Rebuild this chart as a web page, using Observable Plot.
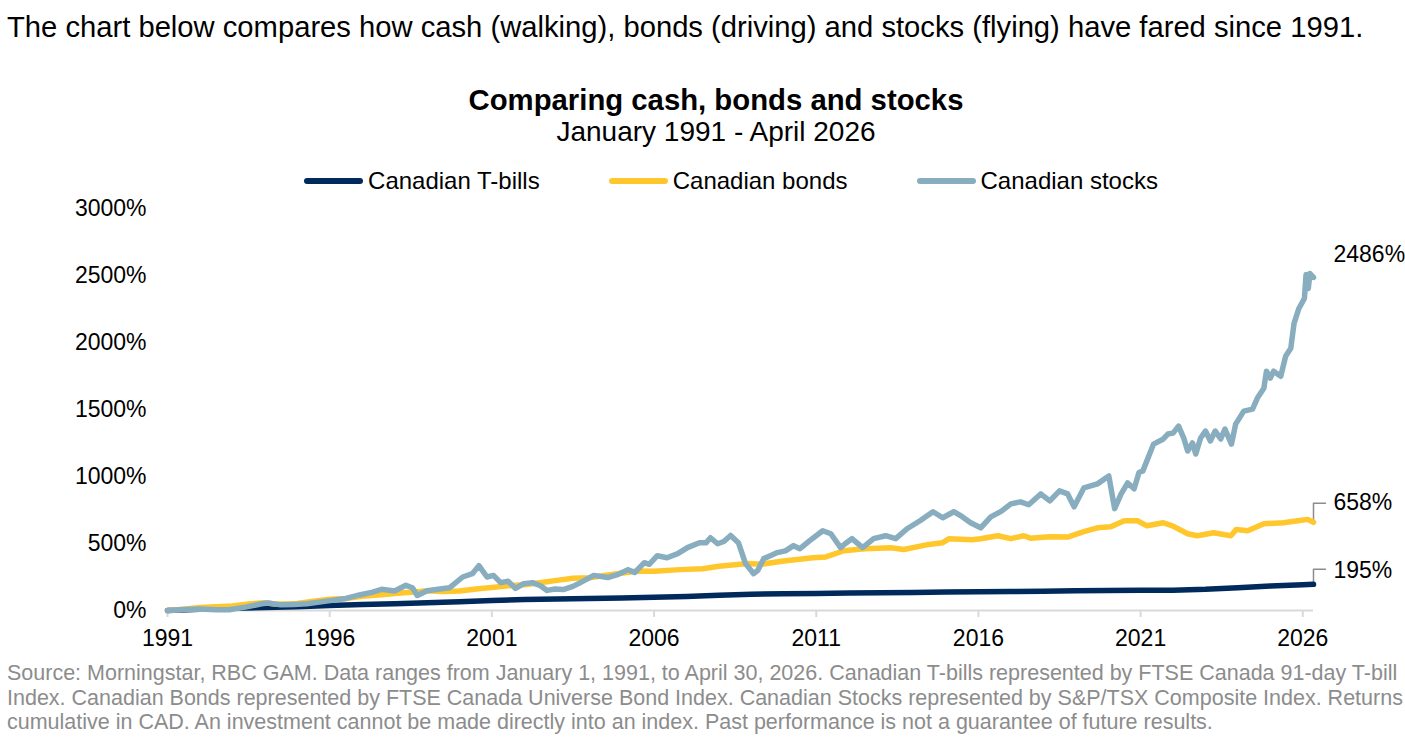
<!DOCTYPE html>
<html>
<head>
<meta charset="utf-8">
<script src="https://cdn.jsdelivr.net/npm/d3@7"></script>
<script src="https://cdn.jsdelivr.net/npm/@observablehq/plot@0.6"></script>
<style>
  html, body { margin: 0; padding: 0; background: #fff; }
  body { width: 1405px; height: 741px; position: relative; overflow: hidden; font-family: "Liberation Sans", Arial, sans-serif; color: #000; }
  .abs { position: absolute; white-space: nowrap; }
  #intro { left: 7px; top: 12px; font-size: 29.2px; line-height: 30px; }
  #title { left: 0; width: 1432px; text-align: center; top: 85px; font-size: 29.3px; line-height: 30px; font-weight: bold; }
  #subtitle { left: 0; width: 1432px; text-align: center; top: 117px; font-size: 28px; line-height: 30px; }
  #legend { left: 0; width: 1462px; top: 167px; display: flex; justify-content: center; gap: 69px; font-size: 24px; line-height: 28px; }
  .item { display: flex; align-items: center; gap: 5px; }
  .sw { width: 59px; height: 6px; border-radius: 3px; }
  #chart { left: 0; top: 195px; }
  #footer { left: 7px; top: 661px; font-size: 21.5px; line-height: 24.5px; color: #8c8c8c; }
</style>
</head>
<body>
<div id="intro" class="abs">The chart below compares how cash (walking), bonds (driving) and stocks (flying) have fared since 1991.</div>
<div id="title" class="abs">Comparing cash, bonds and stocks</div>
<div id="subtitle" class="abs">January 1991 - April 2026</div>
<div id="legend" class="abs"></div>
<div id="chart" class="abs"></div>
<div id="footer" class="abs">Source: Morningstar, RBC GAM. Data ranges from January 1, 1991, to April 30, 2026. Canadian T-bills represented by FTSE Canada 91-day T-bill<br>Index. Canadian Bonds represented by FTSE Canada Universe Bond Index. Canadian Stocks represented by S&amp;P/TSX Composite Index. Returns<br>cumulative in CAD. An investment cannot be made directly into an index. Past performance is not a guarantee of future results.</div>
<script>
// ---- Data (cumulative return, %) ----
const seriesNames = ["Canadian T-bills", "Canadian bonds", "Canadian stocks"];
const seriesColors = ["#002A5C", "#FFC72C", "#88ADBF"];
const endLabels = ["195%", "658%", "2486%"];

const xTicks = [1991, 1996, 2001, 2006, 2011, 2016, 2021, 2026];
const yTicks = [0, 500, 1000, 1500, 2000, 2500, 3000];

const tbillYears = [1991,1992,1993,1994,1995,1996,1997,1998,1999,2000,2001,2002,2003,2004,2005,2006,2007,2008,2009,2010,2011,2012,2013,2014,2015,2016,2017,2018,2019,2020,2021,2022,2023,2024,2025,2026,2026.33];
const tbillValues = [0,9,16,22,28,37,44,50,58,66,75,82,86,90,94,98,105,114,122,125,127,130,133,135,138,140,142,144,147,150,151,152,158,170,183,192,195];

const bondYears = [1991,1991.5,1992,1992.5,1993,1993.5,1994,1994.3,1994.8,1995,1995.5,1996,1996.5,1997,1997.5,1998,1998.7,1999,1999.5,2000,2000.65,2001,2001.5,2002,2002.7,2003,2003.5,2004,2004.75,2005.5,2006,2006.8,2007.5,2008,2008.9,2009.3,2010,2010.9,2011.3,2011.85,2012.5,2013.3,2013.7,2014.4,2014.9,2015.1,2015.8,2016.07,2016.6,2017,2017.4,2017.6,2018.2,2018.75,2019.25,2019.67,2020.08,2020.5,2020.9,2021.2,2021.7,2022,2022.45,2022.75,2023.25,2023.78,2023.95,2024.3,2024.8,2025.4,2025.85,2026.15,2026.33];
const bondValues = [0,10,22,28,34,48,58,48,50,52,70,84,90,106,115,127,140,147,142,145,164,172,185,192,215,225,240,245,270,295,293,305,312,330,350,345,370,394,400,446,461,469,455,490,506,536,528,536,558,536,558,540,551,548,588,617,625,670,670,632,655,630,573,558,580,558,605,595,647,655,670,680,658];

const stockYears = [1991,1991.5,1992,1992.5,1992.9,1993.4,1993.9,1994.1,1994.5,1994.9,1995.3,1995.9,1996.5,1996.95,1997.3,1997.6,1998,1998.35,1998.55,1998.7,1999,1999.4,1999.7,2000.1,2000.4,2000.6,2000.85,2001.05,2001.27,2001.5,2001.73,2001.98,2002.25,2002.5,2002.7,2002.95,2003.2,2003.5,2003.73,2004.14,2004.57,2004.9,2005.2,2005.4,2005.7,2005.85,2006.1,2006.4,2006.73,2007.03,2007.4,2007.6,2007.74,2007.96,2008.15,2008.36,2008.6,2008.82,2009.07,2009.2,2009.38,2009.6,2009.8,2010.05,2010.3,2010.5,2010.8,2011.2,2011.45,2011.75,2011.9,2012.1,2012.43,2012.77,2013.14,2013.45,2013.8,2014.2,2014.6,2014.9,2015.24,2015.5,2015.76,2016.07,2016.38,2016.7,2017,2017.3,2017.55,2017.92,2018.2,2018.5,2018.75,2018.95,2019.25,2019.67,2020.02,2020.2,2020.4,2020.6,2020.8,2020.95,2021.07,2021.4,2021.7,2021.84,2022,2022.17,2022.33,2022.45,2022.6,2022.7,2022.85,2023,2023.15,2023.3,2023.47,2023.6,2023.8,2023.93,2024.18,2024.45,2024.6,2024.8,2024.88,2025,2025.1,2025.32,2025.47,2025.63,2025.73,2025.88,2026.05,2026.1,2026.17,2026.22,2026.33];
const stockValues = [0,8,12,5,5,25,50,56,42,45,50,70,90,118,135,158,145,188,170,112,148,160,170,250,275,335,250,262,208,218,165,200,208,185,150,160,156,180,208,262,246,270,305,283,357,345,409,394,424,469,506,505,543,498,515,560,506,350,275,300,387,410,432,445,484,461,521,595,573,469,500,536,469,536,558,536,610,670,737,692,737,700,655,617,699,740,796,811,789,870,818,893,870,774,915,945,1004,760,870,952,908,1030,1042,1242,1280,1317,1324,1376,1287,1190,1250,1168,1287,1339,1265,1339,1280,1354,1242,1391,1488,1503,1585,1659,1786,1734,1786,1748,1897,1957,2143,2254,2329,2507,2403,2515,2486];

// ---- Build table ----
const allYears = [tbillYears, bondYears, stockYears];
const allValues = [tbillValues, bondValues, stockValues];
const rows = [];
seriesNames.forEach((name, i) => {
  allYears[i].forEach((yr, j) => rows.push({series: name, year: yr, value: allValues[i][j]}));
});

// ---- Legend ----
const legend = document.getElementById("legend");
seriesNames.forEach((name, i) => {
  const it = document.createElement("div");
  it.className = "item";
  it.innerHTML = `<span class="sw" style="background:${seriesColors[i]}"></span><span>${name}</span>`;
  legend.appendChild(it);
});

// ---- Chart ----
const W = 1405, H = 460, mt = 13, mb = 45, ml = 167, mr = 92;
const pxPerUnit = (H - mt - mb) / 3000;       // px per % point
const pxPerYear = (W - ml - mr) / (2026.33 - 1991);
// label offsets above each series' last point (px)
const labelRise = [14, 20, 23];
const bracketRise = [15, 19, null];
const labels = [], brackets = [];
seriesNames.forEach((name, i) => {
  const yr = allYears[i][allYears[i].length - 1];
  const v = allValues[i][allValues[i].length - 1];
  labels.push({series: name, year: yr, value: v + labelRise[i] / pxPerUnit, label: endLabels[i]});
  if (bracketRise[i] != null) {
    const dv = bracketRise[i] / pxPerUnit;
    brackets.push({series: name, year: yr, value: v});
    brackets.push({series: name, year: yr, value: v + dv});
    brackets.push({series: name, year: yr + 12 / pxPerYear, value: v + dv});
  }
});

const chart = Plot.plot({
  width: W, height: H,
  marginTop: mt, marginBottom: mb, marginLeft: ml, marginRight: mr,
  style: {fontFamily: "'Liberation Sans', Arial, sans-serif", fontSize: "23px", color: "#000", background: "transparent", overflow: "visible"},
  x: {domain: [1991, 2026.33]},
  y: {domain: [0, 3000]},
  color: {domain: seriesNames, range: seriesColors},
  marks: [
    Plot.ruleY([0], {stroke: "#d9d9d9", strokeWidth: 2}),
    Plot.axisX({ticks: xTicks, tickFormat: d => String(d), tickSize: 7, tickPadding: 12, stroke: "#d9d9d9", strokeWidth: 2, fill: "#000", label: null}),
    Plot.axisY({ticks: yTicks, tickFormat: d => d + "%", tickSize: 0, tickPadding: 21, fill: "#000", label: null}),
    Plot.line(brackets, {x: "year", y: "value", z: "series", stroke: "#8c8c8c", strokeWidth: 1.5}),
    Plot.line(rows, {x: "year", y: "value", z: "series", stroke: "series", strokeWidth: 5.5, strokeLinejoin: "round", strokeLinecap: "round"}),
    Plot.text(labels, {x: "year", y: "value", text: "label", textAnchor: "start", dx: 20, fill: "#000", fontSize: 23}),
  ]
});
document.getElementById("chart").appendChild(chart);
</script>
</body>
</html>
